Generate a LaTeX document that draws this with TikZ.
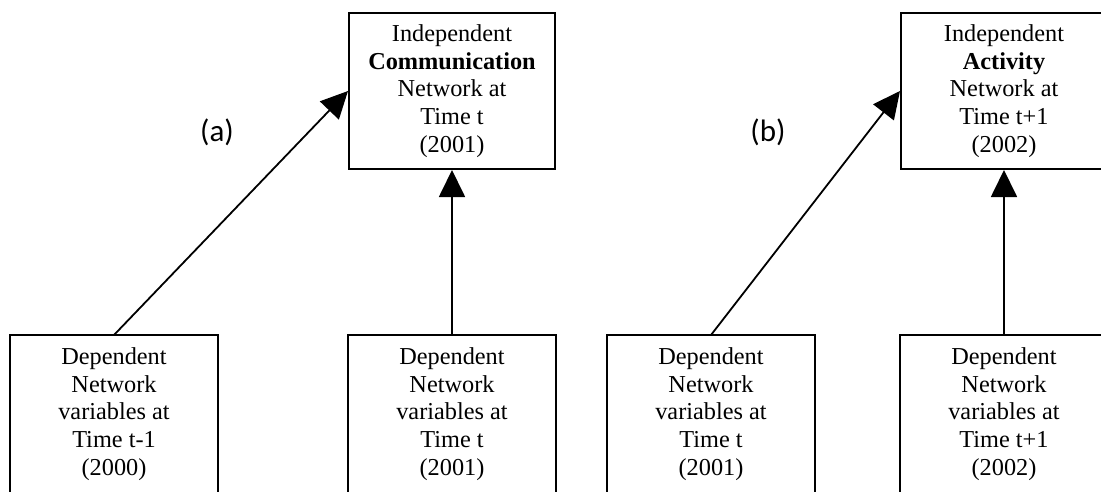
\documentclass[tikz,border=0pt]{standalone}
\usepackage{fontspec}
\setmainfont{Liberation Serif}
\newfontfamily\lblfont{Carlito}
\usetikzlibrary{arrows.meta}
\tikzset{
  netbox/.style={line width=2pt, minimum width=206pt, minimum height=156pt, inner sep=0pt,
    align=center, font=\fontsize{24.3}{27.7}\selectfont},
  boxline/.style={draw, line width=2pt},
  link/.style={line width=1.8pt, -{Triangle[length=27pt,width=26pt]}},
  panel/.style={font=\lblfont\fontsize{31}{34}\selectfont}
}
\begin{document}
\begin{tikzpicture}[x=1pt,y=-1pt]
\useasboundingbox (0,0) rectangle (1101,491);
\clip (0,0) rectangle (1101,491);
\fill[white] (0,0) rectangle (1101,491);
\node[netbox, boxline] (ia) at (452,91) {Independent\\\textbf{Communication}\\Network at\\Time t\\(2001)};
\node[netbox, boxline] (ib) at (1004,91) {Independent\\\textbf{Activity}\\Network at\\Time t+1\\(2002)};
\node[netbox] (d1) at (114,414) {Dependent\\Network\\variables at\\Time t-1\\(2000)};
\node[netbox] (d2) at (452,414) {Dependent\\Network\\variables at\\Time t\\(2001)};
\node[netbox] (d3) at (711,414) {Dependent\\Network\\variables at\\Time t\\(2001)};
\node[netbox] (d4) at (1004,414) {Dependent\\Network\\variables at\\Time t+1\\(2002)};
\foreach \n in {d1,d2,d3,d4}
  \draw[boxline] ([yshift=-20pt]\n.south west) |- (\n.north east) -- ([yshift=-20pt]\n.south east);
\node[panel] (la) at (217,132) {(a)};
\node[panel] (lb) at (768,132) {(b)};
\draw[link] (d1.north) -- (ia.west);
\draw[link] (d2.north) -- (ia.south);
\draw[link] (d3.north) -- (ib.west);
\draw[link] (d4.north) -- (ib.south);
\end{tikzpicture}
\end{document}
